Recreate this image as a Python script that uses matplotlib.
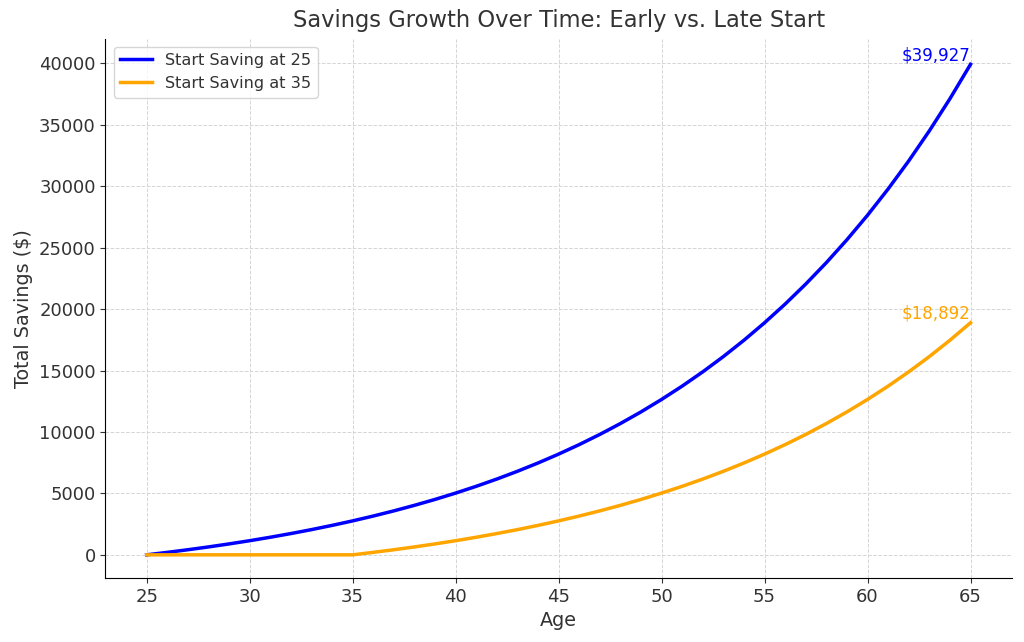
import matplotlib.pyplot as plt

ages = list(range(25, 66))

# savings, one point per year
early = [0, 200, 414, 643, 888, 1150, 1431, 1731, 2052, 2396,
         2763, 3157, 3578, 4029, 4510, 5026, 5578, 6168, 6800, 7476,
         8199, 8973, 9801, 10687, 11635, 12650, 13735, 14896, 16139, 17469,
         18892, 20414, 22043, 23786, 25651, 27647, 29783, 32067, 34512, 37128,
         39927]
late = [0, 0, 0, 0, 0, 0, 0, 0, 0, 0,
        0, 200, 414, 643, 888, 1150, 1431, 1731, 2052, 2396,
        2763, 3157, 3578, 4029, 4510, 5026, 5578, 6168, 6800, 7476,
        8199, 8973, 9801, 10687, 11635, 12650, 13735, 14896, 16139, 17469,
        18892]

labels = ['Start Saving at 25', 'Start Saving at 35']
colors = ['blue', 'orange']

TXT = '#333333'

fig, ax = plt.subplots(figsize=(10.24, 6.42), dpi=100)
fig.subplots_adjust(left=0.103, right=0.988, top=0.94, bottom=0.1)

ax.plot(ages, early, color=colors[0], lw=2.5, label=labels[0])
ax.plot(ages, late, color=colors[1], lw=2.5, label=labels[1])

for series, c in zip([early, late], colors):
    ax.text(ages[-1], series[-1], f'${series[-1]:,}', color=c,
            ha='right', va='bottom', fontsize=12)

ax.set_title('Savings Growth Over Time: Early vs. Late Start', fontsize=16.3,
             color=TXT, pad=8)
ax.set_xlabel('Age', fontsize=13.8, color=TXT)
ax.set_ylabel('Total Savings ($)', fontsize=13.8, color=TXT)
ax.tick_params(labelsize=13, colors=TXT)
ax.grid(True, ls='--', color='#d5d5d5', lw=0.7)
ax.spines['top'].set_visible(False)
ax.spines['right'].set_visible(False)
ax.set_xlim(23, 67)
ax.set_ylim(-1870, 42030)
leg = ax.legend(loc='upper left', fontsize=11.6)
for t in leg.get_texts():
    t.set_color(TXT)

fig.savefig('out.png', dpi=100)
